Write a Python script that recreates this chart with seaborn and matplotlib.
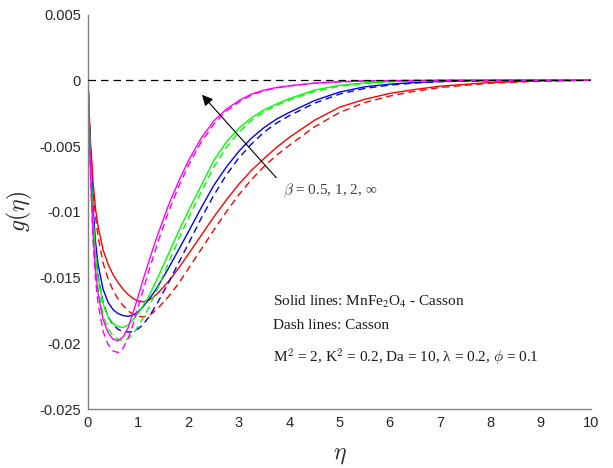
import matplotlib
matplotlib.use("Agg")
import matplotlib.pyplot as plt
import numpy as np
import pandas as pd
import seaborn as sns

# ---- data (g values in units of 1e-3) ----
eta = [0, 0.025, 0.05, 0.1, 0.15, 0.2, 0.3, 0.4, 0.5, 0.6, 0.7, 0.8, 0.9, 1.0, 1.1, 1.2, 1.3, 1.4,
       1.6, 1.8, 2.0, 2.25, 2.5, 2.75, 3.0, 3.25, 3.5, 3.75, 4.0, 4.5, 5.0, 5.5, 6.0, 6.5, 7.0,
       8.0, 9.0, 10.0]

beta_values = ["0.5", "1", "2", "inf"]
colors = ["#FF0000", "#0000FF", "#00FF00", "#FF00FF"]

# solid lines: MnFe2O4 - Casson
solid_b05 = [0, -2.6, -4.7, -7.7, -9.8, -11.1, -12.9, -14.0, -14.8, -15.4, -15.9, -16.3, -16.6, -16.8,
             -16.85, -16.75, -16.5, -16.15, -15.3, -14.3, -13.2, -11.8, -10.4, -9.1, -7.9, -6.85, -5.95,
             -5.1, -4.35, -3.05, -2.05, -1.45, -1.0, -0.7, -0.45, -0.17, -0.05, 0]
solid_b1 = [0, -3.0, -5.6, -9.6, -12.3, -14.0, -15.9, -16.9, -17.45, -17.75, -17.9, -17.95, -17.85,
            -17.6, -17.2, -16.7, -16.2, -15.6, -14.3, -12.9, -11.5, -9.7, -8.0, -6.6, -5.4, -4.4, -3.6,
            -2.95, -2.45, -1.55, -0.9, -0.5, -0.3, -0.17, -0.09, -0.02, 0, 0]
solid_b2 = [0, -3.3, -6.1, -10.4, -13.2, -15.0, -17.0, -18.0, -18.5, -18.75, -18.8, -18.6, -18.2, -17.7,
            -17.1, -16.5, -15.7, -14.9, -13.2, -11.5, -9.9, -8.0, -6.1, -4.7, -3.65, -2.85, -2.25, -1.8,
            -1.4, -0.75, -0.38, -0.2, -0.1, -0.05, -0.02, 0, 0, 0]
solid_binf = [0, -3.8, -7.0, -11.7, -14.5, -16.2, -18.2, -19.2, -19.7, -19.8, -19.5, -18.8, -17.6, -16.4,
              -15.1, -13.9, -12.7, -11.6, -9.5, -7.7, -6.1, -4.4, -3.1, -2.2, -1.55, -1.05, -0.75, -0.55,
              -0.42, -0.22, -0.11, -0.06, -0.03, -0.01, 0, 0, 0, 0]

# dash lines: Casson
dash_b05 = [0, -2.8, -5.0, -8.2, -10.4, -11.9, -13.9, -15.1, -16.0, -16.65, -17.15, -17.55, -17.8, -17.95,
            -18.0, -17.9, -17.65, -17.3, -16.45, -15.45, -14.3, -12.85, -11.4, -10.0, -8.7, -7.55, -6.55,
            -5.7, -4.95, -3.55, -2.45, -1.7, -1.2, -0.83, -0.55, -0.22, -0.07, 0]
dash_b1 = [0, -3.2, -5.9, -10.2, -13.0, -14.9, -16.9, -18.0, -18.6, -18.95, -19.1, -19.15, -19.1, -18.9,
           -18.55, -18.05, -17.45, -16.8, -15.4, -13.9, -12.4, -10.5, -8.75, -7.2, -5.9, -4.85, -3.95,
           -3.25, -2.7, -1.75, -1.05, -0.62, -0.37, -0.21, -0.11, -0.03, -0.01, 0]
dash_b2 = [0, -3.5, -6.4, -10.9, -13.9, -15.8, -17.9, -18.9, -19.45, -19.7, -19.8, -19.65, -19.25, -18.7,
           -18.05, -17.35, -16.5, -15.7, -13.9, -12.1, -10.45, -8.5, -6.6, -5.1, -3.95, -3.05, -2.4,
           -1.9, -1.5, -0.85, -0.45, -0.24, -0.12, -0.06, -0.03, -0.01, 0, 0]
dash_binf = [0, -4.0, -7.3, -12.2, -15.2, -17.0, -19.1, -20.1, -20.6, -20.7, -20.35, -19.6, -18.5, -17.2,
             -15.9, -14.6, -13.4, -12.2, -10.0, -8.1, -6.45, -4.7, -3.35, -2.35, -1.65, -1.12, -0.8,
             -0.58, -0.44, -0.23, -0.12, -0.06, -0.03, -0.01, 0, 0, 0, 0]

x_ticks = [0, 1, 2, 3, 4, 5, 6, 7, 8, 9, 10]
y_ticks = [-0.025, -0.02, -0.015, -0.01, -0.005, 0, 0.005]
y_ticklabels = ["-0.025", "-0.02", "-0.015", "-0.01", "-0.005", "0", "0.005"]

# ---- build long table ----
rows = []
series = {("0.5", "MnFe2O4-Casson"): solid_b05, ("1", "MnFe2O4-Casson"): solid_b1,
          ("2", "MnFe2O4-Casson"): solid_b2, ("inf", "MnFe2O4-Casson"): solid_binf,
          ("0.5", "Casson"): dash_b05, ("1", "Casson"): dash_b1,
          ("2", "Casson"): dash_b2, ("inf", "Casson"): dash_binf}
for (b, fl), vals in series.items():
    for e, v in zip(eta, vals):
        rows.append({"eta": e, "g": v * 1e-3, "beta": b, "fluid": fl})
df = pd.DataFrame(rows)

sns.set_style("white")
plt.rcParams["font.family"] = ["Liberation Sans", "DejaVu Sans"]

fig = plt.figure(figsize=(6.13, 4.68), dpi=100)
ax = fig.add_axes([88 / 613, 1 - 409 / 468, 503 / 613, 394.5 / 468])

sns.lineplot(data=df, x="eta", y="g", hue="beta", style="fluid",
             hue_order=beta_values, palette=colors,
             style_order=["MnFe2O4-Casson", "Casson"],
             dashes={"MnFe2O4-Casson": "", "Casson": (5, 3.2)},
             estimator=None, sort=False, legend=False, lw=1.0, ax=ax)

ax.axhline(0, color="black", lw=0.9, dashes=(6, 4), zorder=5)

ax.set_xlim(0, 10)
ax.set_ylim(-0.025, 0.005)
ax.set_xticks(x_ticks)
ax.set_xticklabels([str(t) for t in x_ticks])
ax.set_yticks(y_ticks)
ax.set_yticklabels(y_ticklabels)

for s in ["top", "right"]:
    ax.spines[s].set_visible(False)
for s in ["left", "bottom"]:
    ax.spines[s].set_color("#808080")
    ax.spines[s].set_linewidth(1.0)
ax.tick_params(direction="in", length=4, width=0.8, color="#808080",
               labelsize=10.5, labelcolor="#262626", pad=5)

ax.set_xlabel(r"$\eta$", fontsize=17, math_fontfamily="cm", labelpad=10, color="#262626")
ax.set_ylabel(r"$g(\eta)$", fontsize=17, math_fontfamily="cm", labelpad=4, color="#262626")

serif = ["Liberation Serif", "DejaVu Serif"]
ax.text(3.68, -0.01715, r"Solid lines: MnFe$_2$O$_4$ - Casson", family=serif,
        fontsize=11, math_fontfamily="stix", va="baseline", color="#1a1a1a")
ax.text(3.68, -0.01892, "Dash lines: Casson", family=serif, fontsize=11,
        va="baseline", color="#1a1a1a")
ax.text(3.68, -0.02146, r"M$^2$ = 2, K$^2$ = 0.2, Da = 10, λ = 0.2, $\phi$ = 0.1",
        family=serif, fontsize=11, math_fontfamily="cm", va="baseline", color="#1a1a1a")
ax.text(3.88, -0.0087, r"$\beta$ = 0.5, 1, 2, ∞", family=serif, fontsize=11,
        math_fontfamily="cm", va="baseline", color="#404040")

ax.annotate("", xy=(2.23, -0.00095), xytext=(3.78, -0.00757),
            arrowprops=dict(arrowstyle="-|>", color="black", lw=0.8, mutation_scale=16))

fig.savefig("out.png", dpi=100)
